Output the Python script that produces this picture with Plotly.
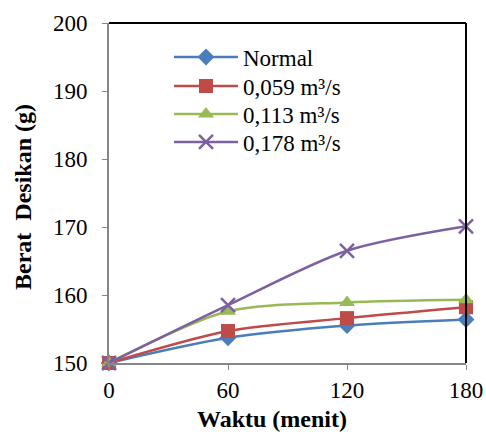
import plotly.graph_objects as go

waktu = [0, 60, 120, 180]
normal = [150.0, 153.7, 155.5, 156.4]
q059 = [150.0, 154.7, 156.6, 158.2]
q113 = [150.0, 157.6, 158.9, 159.3]
q178 = [150.0, 158.5, 166.5, 170.1]

names = ["Normal", "0,059 m³/s", "0,113 m³/s", "0,178 m³/s"]
colors = ["#4A7EBB", "#BE4B48", "#98B954", "#7D60A0"]
symbols = ["diamond", "square", "triangle-up", "x-thin"]
sizes = [13, 14, 14, 14]
series = [normal, q059, q113, q178]
legend_ids = ["legend", "legend2", "legend3", "legend4"]

# plot area in pixels: left 109, right 466, top 23, bottom 363
def py_to_paper(py):
    return 1 - (py - 23) / 340.0

def px_to_paper(px):
    return (px - 109) / 357.0

fig = go.Figure()
for n, c, s, sz, ys, lg in zip(names, colors, symbols, sizes, series, legend_ids):
    mk = dict(symbol=s, size=sz, color=c)
    if s == "x-thin":
        mk["line"] = dict(color=c, width=2.5)
    fig.add_trace(go.Scatter(
        x=waktu, y=ys, name=n, mode="lines+markers", legend=lg,
        line=dict(color=c, width=2.5, shape="spline", smoothing=0.8),
        marker=mk, cliponaxis=False,
    ))

font_family = "Liberation Serif, Times New Roman, serif"
legend_rows = [57, 86, 114, 142]
legend_common = dict(xanchor="left", yanchor="middle", bgcolor="rgba(0,0,0,0)",
                     font=dict(size=23, family=font_family), itemwidth=64)
legends = {}
for lg, row in zip(legend_ids, legend_rows):
    legends[lg] = dict(x=0.168, y=py_to_paper(row), **legend_common)

fig.update_layout(
    width=486, height=432,
    margin=dict(l=109, r=20, t=23, b=69),
    paper_bgcolor="white", plot_bgcolor="white",
    font=dict(family=font_family, size=23, color="black"),
    showlegend=True,
    **legends,
    xaxis=dict(range=[0, 180], tickvals=[0, 60, 120, 180], automargin=False,
               showgrid=False, zeroline=False,
               showline=True, linecolor="#868686", linewidth=2,
               ticks="outside", ticklen=5, tickcolor="#868686", tickwidth=1,
               tickfont=dict(size=23, family=font_family)),
    yaxis=dict(range=[150, 200], tickvals=[150, 160, 170, 180, 190, 200], automargin=False,
               showgrid=False, zeroline=False,
               showline=True, linecolor="#868686", linewidth=2,
               ticks="outside", ticklen=5, tickcolor="#868686", tickwidth=1,
               ticklabelstandoff=10,
               tickfont=dict(size=23, family=font_family)),
    annotations=[
        dict(text="<b>Waktu (menit)</b>", xref="paper", yref="paper",
             x=px_to_paper(272), y=py_to_paper(419), xanchor="center", yanchor="middle",
             showarrow=False, font=dict(size=24, family=font_family, color="black")),
        dict(text="<b>Berat\u00a0\u00a0Desikan (g)</b>", xref="paper", yref="paper",
             x=px_to_paper(23), y=py_to_paper(197), xanchor="center", yanchor="middle",
             textangle=-90, showarrow=False,
             font=dict(size=24, family=font_family, color="black")),
    ],
    shapes=[
        dict(type="line", xref="paper", yref="paper", x0=0, x1=1, y0=1, y1=1,
             line=dict(color="black", width=2)),
        dict(type="line", xref="paper", yref="paper", x0=1, x1=1, y0=0, y1=1,
             line=dict(color="black", width=2)),
    ],
)

fig.write_html("out.html", config={"displayModeBar": False},
               post_script="document.body.style.margin='0';")
